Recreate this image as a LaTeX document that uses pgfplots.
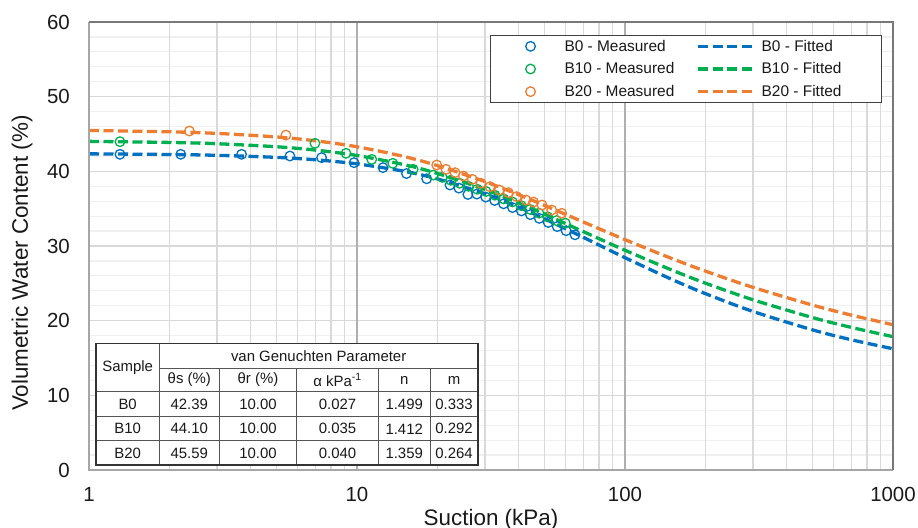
\documentclass[border=0pt]{standalone}
\usepackage{pgfplots}
\pgfplotsset{compat=1.18}
\usepackage{fontspec}
\setmainfont{Liberation Sans}

\definecolor{cBzero}{RGB}{0,112,192}
\definecolor{cBten}{RGB}{0,176,80}
\definecolor{cBtwenty}{RGB}{237,125,49}
\definecolor{txt}{RGB}{25,25,25}
\definecolor{gridX}{RGB}{175,175,175}
\definecolor{gridXminor}{RGB}{217,217,217}
\definecolor{gridY}{RGB}{217,217,217}
\definecolor{gridYminor}{RGB}{240,240,240}
\definecolor{frameA}{RGB}{166,166,166}
\definecolor{frameB}{RGB}{120,120,120}
\definecolor{tabline}{RGB}{85,85,85}

\pgfplotsset{
  measured/.style={draw=none, mark=o, mark size=4.8bp,
    mark options={line width=1.3bp, solid, draw=#1},
    legend image code/.code={\draw[mark repeat=2,mark phase=2,##1,draw=none]
      plot coordinates {(0bp,0bp) (28bp,0bp) (56bp,0bp)}; \path (60bp,0bp);}},
  fitted/.style={draw=#1, line width=3.3bp, dash pattern=on 10bp off 4.5bp, smooth, no marks,
    legend image code/.code={\draw[##1] (0bp,0bp) -- (56bp,0bp); \path (60bp,0bp);}},
}

\begin{document}
\begin{tikzpicture}
% horizontal grid
\begin{axis}[at={(0,0)}, anchor=south west, scale only axis,
  width=804bp, height=448bp, xmode=log, xmin=1, xmax=1000, ymin=0, ymax=60,
  axis line style={draw=none}, major tick length=0pt, minor tick length=0pt,
  xtick=\empty, ytick={0,10,...,60}, minor y tick num=4,
  yticklabels={}, ymajorgrids, yminorgrids,
  major grid style={draw=gridY, line width=1.2bp},
  minor grid style={draw=gridYminor, line width=1.2bp}]
\end{axis}

\begin{axis}[at={(0,0)}, anchor=south west, scale only axis,
  width=804bp, height=448bp, xmode=log, xmin=1, xmax=1000, ymin=0, ymax=60,
  axis line style={draw=none}, major tick length=0pt, minor tick length=0pt,
  xtick={1,10,100,1000}, xticklabels={1,10,100,1000},
  minor xtick={2,3,4,5,6,7,8,9,20,30,40,50,60,70,80,90,200,300,400,500,600,700,800,900},
  ytick={0,10,...,60},
  xmajorgrids, xminorgrids,
  major grid style={draw=gridX, line width=1.4bp},
  minor grid style={draw=gridXminor, line width=1.3bp},
  /pgf/number format/assume math mode=true,
  tick label style={font=\fontsize{20.5}{24}\selectfont, text=txt, inner sep=0pt},
  yticklabel style={anchor=east, xshift=-19bp},
  xticklabel style={anchor=north, yshift=-17bp},
  xlabel={Suction (kPa)}, ylabel={Volumetric Water Content (\%)},
  every axis x label/.style={at={(axis description cs:0.5,-0.11)}, anchor=center,
    font=\fontsize{22.5}{26}\selectfont, text=txt},
  every axis y label/.style={at={(axis description cs:-0.0833,0.462)}, rotate=90, anchor=center,
    font=\fontsize{22.5}{26}\selectfont, text=txt},
  legend columns=2, legend cell align=left,
  legend style={at={(0.4988,0.971)}, anchor=north west, draw=black!75, line width=1bp,
    fill=white, font=\fontsize{15.5}{18}\selectfont, text=txt,
    inner xsep=12bp, inner ysep=2.5bp, row sep=6bp,
    /tikz/every even column/.append style={column sep=20bp}},
]
% B0
\addplot[measured=cBzero] coordinates {
 (1.305,42.28) (2.20,42.28) (3.71,42.28) (5.62,42.05) (7.38,41.83) (9.75,41.16)
 (12.5,40.50) (15.3,39.70) (18.2,39.00) (22.23,38.17) (24.00,37.75) (25.93,36.90)
 (27.99,36.95) (30.22,36.55) (32.64,36.10) (35.24,35.65) (38.04,35.15) (41.06,34.70)
 (44.36,34.20) (47.89,33.70) (51.70,33.15) (55.85,32.60) (60.29,32.05) (65.09,31.50)};
\addlegendentry{B0 - Measured}
\addplot[fitted=cBzero] coordinates {
 (1,42.342) (2,42.256) (3,42.145) (5,41.871) (7,41.548) (10,41.002) (15,40.007)
 (20,38.977) (30,36.991) (40,35.210) (50,33.660) (70,31.149) (100,28.435)
 (150,25.505) (200,23.606) (300,21.239) (500,18.776) (700,17.438) (1000,16.235)};
\addlegendentry{\makebox[106bp][l]{B0 - Fitted}}
% B10
\addplot[measured=cBten] coordinates {
 (1.305,43.97) (6.97,43.75) (9.10,42.41) (11.35,41.60) (13.6,41.07) (16.2,40.27)
 (19.27,39.50) (20.78,39.20) (22.40,38.80) (24.16,38.40) (26.06,38.00) (28.11,37.60)
 (30.32,37.30) (32.70,36.80) (35.27,36.30) (38.04,35.90) (41.03,35.40) (44.25,34.90)
 (47.73,34.40) (51.47,33.90) (55.52,33.40) (59.88,33.05)};
\addlegendentry{B10 - Measured}
\addplot[fitted=cBten] coordinates {
 (1,44.013) (2,43.870) (3,43.698) (5,43.294) (7,42.843) (10,42.122) (15,40.892)
 (20,39.704) (30,37.568) (40,35.774) (50,34.272) (70,31.917) (100,29.429)
 (150,26.757) (200,25.013) (300,22.800) (500,20.424) (700,19.091) (1000,17.857)};
\addlegendentry{\makebox[106bp][l]{B10 - Fitted}}
% B20
\addplot[measured=cBtwenty] coordinates {
 (2.37,45.40) (5.43,44.86) (19.84,40.85) (21.48,40.27) (23.21,39.82) (24.93,39.37)
 (26.93,38.93) (29.01,38.40) (31.35,37.94) (33.96,37.50) (36.70,37.14) (39.44,36.61)
 (42.72,36.16) (45.56,35.89) (49.01,35.49) (53.26,34.82) (58.05,34.38)};
\addlegendentry{B20 - Measured}
\addplot[fitted=cBtwenty] coordinates {
 (1,45.473) (2,45.292) (3,45.081) (5,44.605) (7,44.089) (10,43.290) (15,41.980)
 (20,40.756) (30,38.627) (40,36.884) (50,35.444) (70,33.206) (100,30.848)
 (150,28.303) (200,26.624) (300,24.465) (500,22.094) (700,20.737) (1000,19.458)};
\addlegendentry{\makebox[106bp][l]{B20 - Fitted}}
\end{axis}

% plot frame
\draw[frameA, line width=2bp] (0bp,448bp) -- (0bp,0bp) -- (804bp,0bp);
\draw[frameB, line width=1.2bp] (0bp,448bp) -- (804bp,448bp) -- (804bp,0bp);

% parameter table
\begin{scope}[every node/.style={font=\fontsize{15}{18}\selectfont, text=txt, inner sep=0pt}]
\fill[white] (7bp,5bp) rectangle (389bp,126.7bp);
\draw[tabline, line width=1bp]
  (70.3bp,101.7bp) -- (389bp,101.7bp)
  (7bp,78.3bp) -- (389bp,78.3bp)
  (7bp,53.3bp) -- (389bp,53.3bp)
  (7bp,29bp) -- (389bp,29bp)
  (70.3bp,5bp) -- (70.3bp,126.7bp)
  (130.3bp,5bp) -- (130.3bp,101.7bp)
  (207.7bp,5bp) -- (207.7bp,101.7bp)
  (289.3bp,5bp) -- (289.3bp,101.7bp)
  (341bp,5bp) -- (341bp,101.7bp);
\draw[black!80, line width=1.2bp] (7bp,5bp) rectangle (389bp,126.7bp);
\node at (38.65bp,102.5bp) {Sample};
\node at (229.65bp,114.2bp) {van Genuchten Parameter};
\node at (100.3bp,90bp) {θs (\%)};
\node at (169bp,90bp) {θr (\%)};
\node at (248.5bp,90bp) {α kPa\textsuperscript{-1}};
\node at (315.2bp,90bp) {n};
\node at (365bp,90bp) {m};
\foreach \y/\s/\ts/\a/\n/\m in {65.8/B0/42.39/0.027/1.499/0.333,
                                 41.2/B10/44.10/0.035/1.412/0.292,
                                 17/B20/45.59/0.040/1.359/0.264}{
  \node at (38.65bp,\y bp) {\s};
  \node at (100.3bp,\y bp) {\ts};
  \node at (169bp,\y bp) {10.00};
  \node at (248.5bp,\y bp) {\a};
  \node at (315.2bp,\y bp) {\n};
  \node at (365bp,\y bp) {\m};
}
\end{scope}

\pgfresetboundingbox
\useasboundingbox (-89bp,-58bp) rectangle (829bp,470bp);
\end{tikzpicture}
\end{document}
